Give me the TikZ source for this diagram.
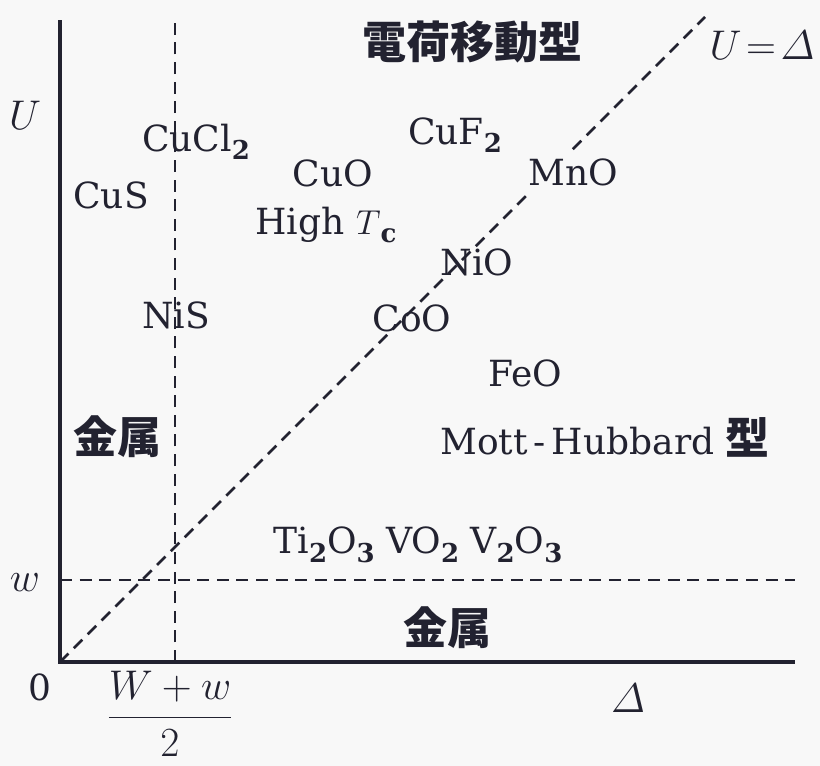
\documentclass[tikz,border=0pt]{standalone}
\usepackage{amsmath}
\usepackage[no-math]{fontspec}
\setmainfont{DejaVu Serif}
\newfontfamily\cjk{Noto Sans CJK JP}
\definecolor{bg}{RGB}{248,248,248}
\definecolor{ink}{RGB}{34,34,48}
\newcommand{\lblfont}{\fontsize{18}{22}\selectfont}
\newcommand{\mathfnt}{\fontsize{21}{25}\selectfont}
\newcommand{\cjkfont}{\fontsize{22}{26}\selectfont\cjk\bfseries}
\newcommand{\chsub}[1]{\raisebox{-0.45ex}{\fontsize{13}{15}\selectfont\bfseries #1}}
\begin{document}
\begin{tikzpicture}[x=0.5pt,y=-0.5pt,
  lbl/.style={font=\lblfont, text=ink, inner sep=0pt},
  mlbl/.style={font=\mathfnt, text=ink, inner sep=0pt},
  cjklbl/.style={font=\cjkfont, text=ink, inner sep=0pt},
  axis/.style={draw=ink, line width=1.7pt},
  guide/.style={draw=ink, line width=1.25pt, dash pattern=on 6pt off 3.8pt}]
\fill[bg] (0,0) rectangle (820,766);
\useasboundingbox (0,0) rectangle (820,766);
% coordinates
\coordinate (O) at (60,662);
\coordinate (Utop) at (60,20);
\coordinate (Dend) at (795,662);
\coordinate (Vtop) at (175,20);
\coordinate (Vbot) at (175,662);
\coordinate (wL) at (60,580);
\coordinate (wR) at (795,580);
\coordinate (Dtop) at (705,17);
% guides
\draw[guide] (Vbot) -- (Vtop);
\draw[guide] (wL) -- (wR);
\draw[guide] (O) -- (Dtop);
% axes
\draw[axis] (Utop) -- (O) -- (Dend);
% labels
\node[cjklbl] (ct) at (472,42) {電荷移動型};
\node[mlbl] (ud) at (762,45) {$U\!=\!\mathnormal{\Delta}$};
\node[mlbl] (U) at (25,115) {$U$};
\node[lbl] (cucl) at (196,142) {CuCl\chsub{2}};
\node[lbl] (cus) at (111,195) {CuS};
\node[lbl] (cuo) at (333,173) {CuO};
\node[lbl] (htc) at (326,225) {High $T$\chsub{c}};
\node[lbl] (cuf) at (455,135) {CuF\chsub{2}};
\node[lbl, fill=bg, inner sep=3pt] (mno) at (573,172) {MnO};
\node[lbl] (nio) at (477,262) {NiO};
\node[lbl] (coo) at (412,318) {CoO};
\node[lbl] (nis) at (176,315) {NiS};
\node[lbl] (feo) at (525,373) {FeO};
\node[cjklbl] (metal1) at (117,437) {金属};
\node[lbl] (mh) at (605,437) {Mott\,-\,Hubbard\ {\cjkfont 型}};
\node[lbl] (ti) at (418,545) {Ti\chsub{2}O\chsub{3} VO\chsub{2} V\chsub{2}O\chsub{3}};
\node[mlbl] (w) at (25,583) {$w$};
\node[cjklbl] (metal2) at (447,628) {金属};
\node[lbl] (zero) at (40,687) {0};
\node[mlbl] (frac) at (170,714) {$\dfrac{W+w}{2}$};
\node[mlbl] (delta) at (628,698) {$\mathnormal{\Delta}$};
\end{tikzpicture}
\end{document}
